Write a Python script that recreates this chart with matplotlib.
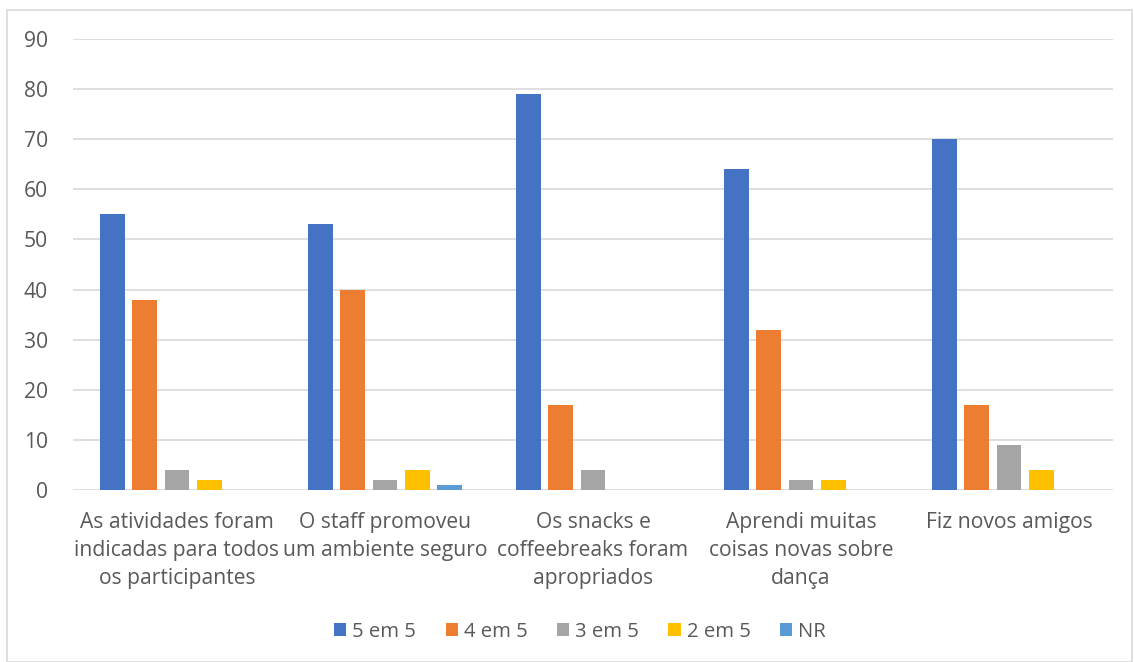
import numpy as np
import matplotlib.pyplot as plt
from matplotlib.patches import Rectangle

# categories and series values
categories = ["As atividades foram\nindicadas para todos\nos participantes",
              "O staff promoveu\num ambiente seguro",
              "Os snacks e\ncoffeebreaks foram\napropriados",
              "Aprendi muitas\ncoisas novas sobre\ndança",
              "Fiz novos amigos"]
series_names = ["5 em 5", "4 em 5", "3 em 5", "2 em 5", "NR"]
s5 = [55, 53, 79, 64, 70]
s4 = [38, 40, 17, 32, 17]
s3 = [4, 2, 4, 2, 9]
s2 = [2, 4, 0, 2, 4]
nr = [0, 1, 0, 0, 0]
colors = ["#4472C4", "#ED7D31", "#A5A5A5", "#FFC000", "#5B9BD5"]
yticks = [0, 10, 20, 30, 40, 50, 60, 70, 80, 90]

plt.rcParams['font.family'] = ['Open Sans', 'DejaVu Sans']
txt = "#595959"

fig = plt.figure(figsize=(11.34, 6.62), dpi=100)
ax = fig.add_axes([73/1134, 1-490/662, 1040/1134, 451/662])

x = np.arange(len(categories))
step = 0.154
width = 0.12
for i, (vals, name) in enumerate(zip([s5, s4, s3, s2, nr], series_names)):
    ax.bar(x + (i-2)*step, vals, width, color=colors[i], label=name, zorder=3)

ax.set_xlim(-0.5, len(categories)-0.5)
ax.set_ylim(0, 90)
ax.set_yticks(yticks)
ax.set_xticks(x)
ax.set_xticklabels(categories, fontsize=15.2, color=txt, linespacing=1.42)
ax.tick_params(axis='y', labelsize=15.2, labelcolor=txt, length=0, pad=18)
ax.tick_params(axis='x', length=0, pad=16)
ax.grid(axis='y', color="#D9D9D9", linewidth=1.2, zorder=0)
for s in ax.spines.values():
    s.set_visible(False)

fig.legend(loc='center', bbox_to_anchor=(580/1134, 1-632/662), ncol=5, frameon=False,
           fontsize=14.6, labelcolor=txt, handlelength=0.6, handleheight=0.6,
           handletextpad=0.3, columnspacing=1.45)

fig.patches.append(Rectangle((7/1134, 0), 1125/1134, 1-10/662, transform=fig.transFigure,
                             fill=False, edgecolor="#D9D9D9", linewidth=1.2))

plt.savefig("out.png", dpi=100)
